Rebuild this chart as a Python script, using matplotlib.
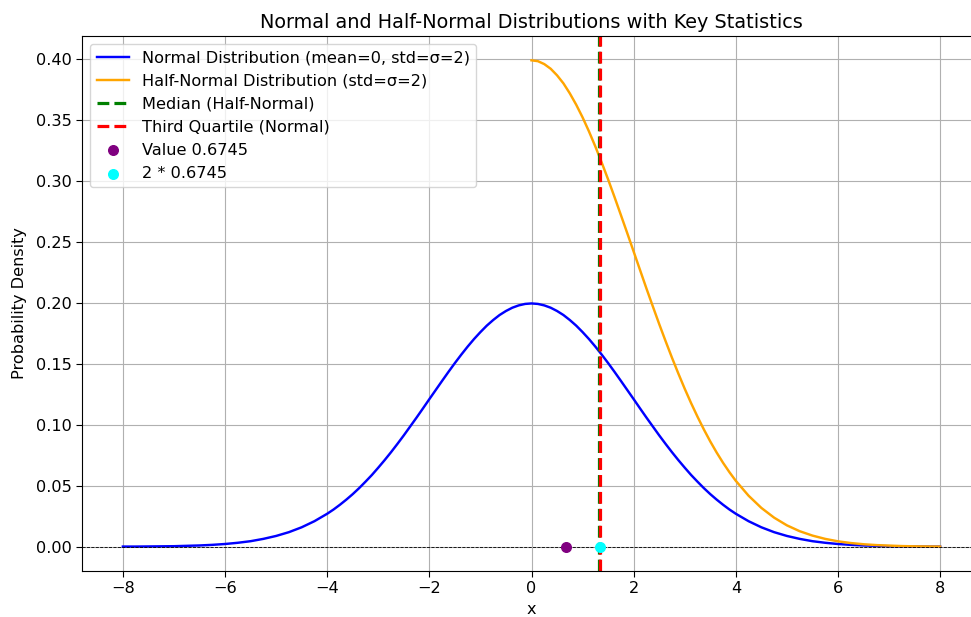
import numpy as np
import matplotlib.pyplot as plt

plt.rcParams['font.size'] = 11.6
plt.rcParams['axes.titlesize'] = 13.9
plt.rcParams['lines.linewidth'] = 1.75
plt.rcParams['xtick.major.size'] = 4
plt.rcParams['ytick.major.size'] = 4

# density values (finer steps where the curves bend)
x_normal = np.concatenate([np.arange(-8, -4, 0.25), np.arange(-4, 4, 0.125), np.arange(4, 8.01, 0.25)])
normal_pdf = [0.0001, 0.0001, 0.0002, 0.0003, 0.0004, 0.0007, 0.0010, 0.0015,
              0.0022, 0.0032, 0.0045, 0.0064, 0.0088, 0.0119, 0.0159, 0.0209,
              0.0270, 0.0305, 0.0344, 0.0386, 0.0431, 0.0480, 0.0533, 0.0588,
              0.0648, 0.0710, 0.0775, 0.0843, 0.0913, 0.0986, 0.1059, 0.1134,
              0.1210, 0.1285, 0.1360, 0.1434, 0.1506, 0.1575, 0.1641, 0.1703,
              0.1760, 0.1813, 0.1859, 0.1900, 0.1933, 0.1960, 0.1979, 0.1991,
              0.1995, 0.1991, 0.1979, 0.1960, 0.1933, 0.1900, 0.1859, 0.1813,
              0.1760, 0.1703, 0.1641, 0.1575, 0.1506, 0.1434, 0.1360, 0.1285,
              0.1210, 0.1134, 0.1059, 0.0986, 0.0913, 0.0843, 0.0775, 0.0710,
              0.0648, 0.0588, 0.0533, 0.0480, 0.0431, 0.0386, 0.0344, 0.0305,
              0.0270, 0.0209, 0.0159, 0.0119, 0.0088, 0.0064, 0.0045, 0.0032,
              0.0022, 0.0015, 0.0010, 0.0007, 0.0004, 0.0003, 0.0002, 0.0001, 0.0001]

x_half = np.concatenate([np.arange(0, 4, 0.125), np.arange(4, 8.01, 0.25)])
half_pdf = [0.3989, 0.3982, 0.3958, 0.3920, 0.3866, 0.3800, 0.3718, 0.3625,
            0.3521, 0.3406, 0.3282, 0.3150, 0.3012, 0.2868, 0.2720, 0.2571,
            0.2420, 0.2269, 0.2118, 0.1971, 0.1826, 0.1686, 0.1550, 0.1420,
            0.1295, 0.1177, 0.1066, 0.0961, 0.0863, 0.0772, 0.0688, 0.0611,
            0.0540, 0.0418, 0.0318, 0.0238, 0.0175, 0.0127, 0.0091, 0.0064,
            0.0044, 0.0030, 0.0020, 0.0013, 0.0009, 0.0005, 0.0003, 0.0002, 0.0001]

value = 0.6745
median_half = 1.33   # green line sits just left of the red one
q3_normal = 1.349

fig = plt.figure(figsize=(9.71, 6.17), dpi=100)
ax = fig.add_axes([82/971, 46/617, 899/971, 535/617])

ax.plot(x_normal, normal_pdf, color='blue', label='Normal Distribution (mean=0, std=σ=2)')
ax.plot(x_half, half_pdf, color='orange', label='Half-Normal Distribution (std=σ=2)')
ax.axvline(median_half, color='green', linestyle='--', linewidth=2.3, label='Median (Half-Normal)')
ax.axvline(q3_normal, color='red', linestyle='--', linewidth=2.3, label='Third Quartile (Normal)')
ax.scatter([value], [0], color='purple', s=48, zorder=5, label='Value 0.6745')
ax.scatter([2 * value], [0], color='cyan', s=48, zorder=5, label='2 * 0.6745')
ax.axhline(0, color='black', linestyle='--', linewidth=0.6)

ax.set_title('Normal and Half-Normal Distributions with Key Statistics')
ax.set_xlabel('x')
ax.set_ylabel('Probability Density', labelpad=6)
ax.legend(loc='upper left')
ax.grid(True)

fig.savefig('out.png', dpi=100)
